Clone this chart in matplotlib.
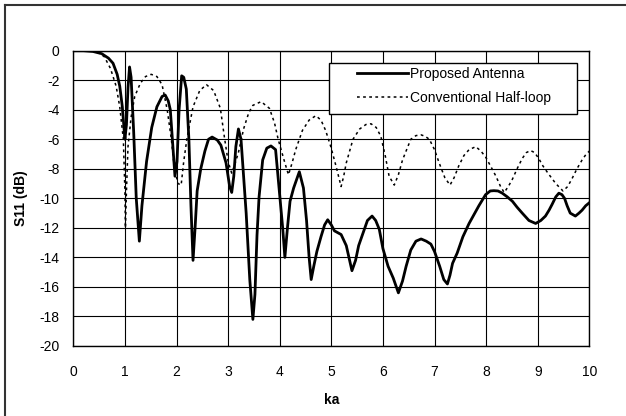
import matplotlib
matplotlib.use("Agg")
import matplotlib.pyplot as plt
from matplotlib.lines import Line2D
from matplotlib.patches import Rectangle

plt.rcParams['font.family'] = ['Liberation Sans', 'DejaVu Sans']
plt.rcParams['axes.unicode_minus'] = False

# Proposed antenna (solid)
ka_proposed = [0, 0.2, 0.38, 0.55, 0.68, 0.77, 0.85, 0.9, 0.95, 1.0, 1.03, 1.06, 1.09, 1.12,
               1.17, 1.22, 1.28, 1.33, 1.42, 1.52, 1.62, 1.72, 1.78, 1.84, 1.88, 1.92, 1.97,
               2.01, 2.05, 2.1, 2.14, 2.19, 2.24, 2.28, 2.32, 2.36, 2.4, 2.47, 2.55, 2.62,
               2.69, 2.79, 2.86, 2.96, 3.03, 3.07, 3.11, 3.15, 3.2, 3.25, 3.3, 3.35, 3.42,
               3.48, 3.52, 3.56, 3.6, 3.67, 3.75, 3.83, 3.92, 3.99, 4.06, 4.1, 4.15, 4.2,
               4.27, 4.38, 4.46, 4.52, 4.57, 4.61, 4.66, 4.72, 4.8, 4.87, 4.93, 5.0, 5.06,
               5.19, 5.29, 5.4, 5.47, 5.53, 5.61, 5.7, 5.79, 5.86, 5.93, 6.0, 6.1, 6.2,
               6.3, 6.38, 6.45, 6.54, 6.64, 6.74, 6.84, 6.93, 7.0, 7.1, 7.18, 7.25, 7.3,
               7.35, 7.44, 7.55, 7.67, 7.78, 7.86, 7.99, 8.08, 8.15, 8.23, 8.31, 8.41,
               8.51, 8.6, 8.7, 8.83, 8.96, 9.06, 9.15, 9.22, 9.28, 9.35, 9.41, 9.47, 9.52,
               9.57, 9.63, 9.73, 9.8, 9.86, 9.93, 10.0]
s11_proposed = [0, 0, -0.05, -0.2, -0.5, -0.85, -1.6, -2.4, -3.8, -6.0, -5.0, -2.5, -1.1, -1.8,
                -5.5, -10.0, -12.9, -10.5, -7.5, -5.2, -3.8, -3.1, -3.0, -3.4, -4.0, -6.0, -8.5,
                -7.5, -4.0, -1.7, -1.8, -2.6, -6.0, -10.5, -14.2, -12.0, -9.5, -8.0, -6.8, -6.0,
                -5.85, -6.05, -6.4, -7.6, -9.2, -9.6, -8.5, -6.5, -5.3, -6.0, -8.5, -11.0, -15.5,
                -18.2, -16.5, -12.5, -9.9, -7.4, -6.6, -6.45, -6.7, -9.4, -12.1, -14.0, -12.0, -10.2,
                -9.3, -8.2, -9.3, -11.5, -14.0, -15.5, -14.6, -13.6, -12.6, -11.8, -11.45, -11.8, -12.2,
                -12.45, -13.2, -14.9, -14.2, -13.2, -12.4, -11.5, -11.2, -11.5, -12.1, -13.4, -14.6, -15.4,
                -16.4, -15.6, -14.6, -13.5, -12.9, -12.75, -12.9, -13.1, -13.6, -14.6, -15.5, -15.8, -15.2,
                -14.4, -13.7, -12.6, -11.7, -11.0, -10.5, -9.75, -9.5, -9.48, -9.5, -9.64, -9.9,
                -10.2, -10.6, -11.0, -11.5, -11.7, -11.5, -11.2, -10.8, -10.4, -9.9, -9.65, -9.75, -10.0,
                -10.5, -11.0, -11.2, -11.0, -10.8, -10.5, -10.3]

# Conventional half-loop (dotted)
ka_half = [0, 0.3, 0.45, 0.6, 0.72, 0.83, 0.9, 0.97, 1.0, 1.01, 1.03, 1.06, 1.12, 1.19, 1.3,
           1.4, 1.51, 1.62, 1.72, 1.82, 1.9, 1.96, 2.03, 2.09, 2.14, 2.2, 2.32, 2.45, 2.58,
           2.72, 2.85, 2.93, 3.0, 3.07, 3.12, 3.2, 3.3, 3.4, 3.48, 3.64, 3.8, 3.9, 3.97,
           4.1, 4.17, 4.24, 4.31, 4.44, 4.57, 4.7, 4.8, 4.89, 4.99, 5.09, 5.19, 5.24, 5.29,
           5.42, 5.55, 5.67, 5.77, 5.87, 5.96, 6.05, 6.12, 6.22, 6.3, 6.38, 6.54, 6.64,
           6.74, 6.82, 6.9, 7.0, 7.09, 7.2, 7.3, 7.38, 7.47, 7.57, 7.67, 7.8, 7.9, 7.99,
           8.1, 8.19, 8.28, 8.35, 8.43, 8.51, 8.6, 8.7, 8.78, 8.86, 8.94, 9.02, 9.1, 9.2,
           9.35, 9.49, 9.58, 9.66, 9.76, 9.86, 9.93, 10.0]
s11_half = [0, 0, -0.05, -0.4, -1.2, -2.4, -3.8, -6.0, -9.5, -12.0, -9.5, -6.5, -4.5, -3.1, -2.2,
            -1.75, -1.6, -1.75, -2.3, -4.0, -6.0, -8.0, -9.0, -9.1, -7.5, -6.0, -3.8, -2.7, -2.3,
            -2.7, -3.9, -5.9, -7.5, -8.3, -7.8, -6.9, -5.3, -4.2, -3.7, -3.45, -3.9, -4.9, -6.0,
            -7.6, -8.4, -7.6, -6.7, -5.4, -4.7, -4.4, -4.7, -5.4, -6.5, -7.8, -9.2, -8.5, -7.6,
            -6.0, -5.3, -5.0, -4.95, -5.2, -5.8, -7.2, -8.5, -9.1, -8.4, -7.4, -6.0, -5.75,
            -5.7, -5.8, -6.0, -6.7, -7.6, -8.6, -9.1, -8.6, -7.8, -7.1, -6.7, -6.5, -6.8, -7.2,
            -7.9, -8.5, -9.2, -9.6, -9.2, -8.7, -8.0, -7.3, -6.9, -6.76, -6.9, -7.3, -7.8, -8.3,
            -9.0, -9.5, -9.2, -8.7, -8.0, -7.4, -7.05, -6.8]

fig = plt.figure(figsize=(6.26, 4.16), dpi=100)
ax = fig.add_axes([0.1171, 0.1683, 0.8243, 0.7098])

ax.plot(ka_half, s11_half, color='black', linewidth=1.1, linestyle=(0, (1.8, 2.2)),
        label='Conventional Half-loop', zorder=3)
ax.plot(ka_proposed, s11_proposed, color='black', linewidth=2.0,
        label='Proposed Antenna', zorder=4)

ax.set_xlim(0, 10)
ax.set_ylim(-20, 0)
ax.set_xticks(range(0, 11))
ax.set_yticks(range(-20, 1, 2))
ax.grid(True, color='black', linewidth=0.8)
ax.set_axisbelow(True)
ax.tick_params(length=0, labelsize=10)
ax.tick_params(axis='x', pad=14)
ax.tick_params(axis='y', pad=10)
for sp in ax.spines.values():
    sp.set_linewidth(1.0)

ax.set_xlabel('ka', fontsize=10, fontweight='bold', labelpad=10)
ax.set_ylabel('S11 (dB)', fontsize=10, fontweight='bold', labelpad=8)

# legend box like Excel: wide frame with empty space left of the handles
ax.add_patch(Rectangle((0.4955, 0.7856), 0.4806, 0.1727, transform=ax.transAxes,
                       facecolor='white', edgecolor='black', linewidth=1.0, zorder=5))
handles, labels = ax.get_legend_handles_labels()
leg = ax.legend(handles[::-1], labels[::-1], loc='upper left',
                bbox_to_anchor=(0.5498, 0.944), borderaxespad=0, borderpad=0,
                fontsize=10, handlelength=3.7, handletextpad=0.1, frameon=False,
                labelspacing=0.72)
leg.set_zorder(6)

# chart-area border (left and top edges only visible in the crop)
fig.add_artist(Line2D([4.5 / 626, 4.5 / 626], [0, 1 - 4.5 / 416], transform=fig.transFigure,
                      color='#333333', linewidth=1.5))
fig.add_artist(Line2D([4.5 / 626, 1], [1 - 4.5 / 416, 1 - 4.5 / 416], transform=fig.transFigure,
                      color='#333333', linewidth=1.5))

fig.savefig('out.png', dpi=100)
